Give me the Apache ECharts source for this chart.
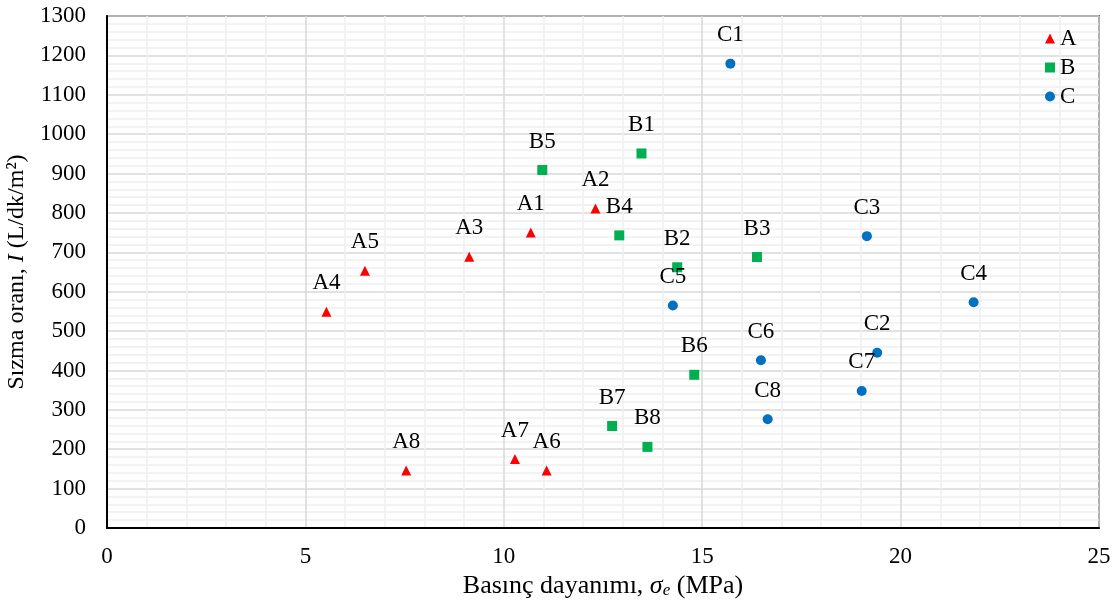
<!DOCTYPE html>
<html>
<head>
<meta charset="utf-8">
<script src="https://cdn.jsdelivr.net/npm/echarts@6/dist/echarts.min.js"></script>
<style>
  html, body { margin: 0; padding: 0; background: #fff; }
  #chart { width: 1118px; height: 601px; }
</style>
</head>
<body>
<div id="chart"></div>
<script>
// A serisi
const aNames = ['A1', 'A2', 'A3', 'A4', 'A5', 'A6', 'A7', 'A8'];
const aX = [10.68, 12.31, 9.13, 5.53, 6.50, 11.08, 10.28, 7.54];
const aY = [750, 811, 689, 549, 653, 146, 175, 146];
// B serisi
const bNames = ['B1', 'B2', 'B3', 'B4', 'B5', 'B6', 'B7', 'B8'];
const bX = [13.47, 14.37, 16.38, 12.91, 10.97, 14.80, 12.73, 13.62];
const bY = [951, 662, 688, 743, 909, 389, 259, 206];
// C serisi
const cNames = ['C1', 'C2', 'C3', 'C4', 'C5', 'C6', 'C7', 'C8'];
const cX = [15.71, 19.41, 19.15, 21.84, 14.26, 16.48, 19.02, 16.65];
const cY = [1179, 445, 741, 573, 565, 426, 348, 276];

const FONT = 'Liberation Serif';
const FS = 23;   // etiketler
const XFS = 26;  // x ekseni basligi
const YFS = 24;  // y ekseni basligi

const toData = (names, xs, ys) => names.map((n, i) => ({ name: n, value: [xs[i], ys[i]] }));

const makeSeries = (name, symbol, size, color, data) => ({
  name: name,
  type: 'scatter',
  symbol: symbol,
  symbolSize: size,
  itemStyle: { color: color, opacity: 1 },
  label: {
    show: true,
    position: 'top',
    distance: 12,
    formatter: p => p.name,
    color: '#000',
    fontFamily: FONT,
    fontSize: FS
  },
  data: data
});

const chart = echarts.init(document.getElementById('chart'));
chart.setOption({
  backgroundColor: '#fff',
  animation: false,
  grid: {
    left: 107, right: 19, top: 16, bottom: 73,
    outerBoundsMode: 'none',
    show: true, borderColor: '#000', borderWidth: 1.5
  },
  legend: {
    orient: 'vertical',
    left: 1040,
    top: 22,
    itemWidth: 10,
    itemHeight: 10,
    itemGap: 6,
    textStyle: { fontFamily: FONT, fontSize: FS, color: '#000' },
    data: ['A', 'B', 'C']
  },
  xAxis: {
    type: 'value',
    min: 0, max: 25, interval: 5,
    name: '{n|Basınç dayanımı, }{i|σ}{s|e}{n| (MPa)}',
    nameLocation: 'middle',
    nameGap: 40,
    nameTextStyle: {
      rich: {
        n: { fontFamily: FONT, fontSize: XFS, color: '#000' },
        i: { fontFamily: FONT, fontSize: XFS, fontStyle: 'italic', color: '#000' },
        s: { fontFamily: FONT, fontSize: 17, fontStyle: 'italic', color: '#000', verticalAlign: 'bottom', padding: [9, 0, 0, 0] }
      }
    },
    axisLine: { show: true, lineStyle: { color: '#000', width: 2 } },
    axisTick: { show: false },
    axisLabel: { fontFamily: FONT, fontSize: FS, color: '#000', margin: 17, formatter: v => String(v) },
    splitLine: { show: true, lineStyle: { color: '#d9d9d9', width: 1.5 } },
    minorTick: { show: false, splitNumber: 5 },
    minorSplitLine: { show: true, lineStyle: { color: '#efefef', width: 1.5 } }
  },
  yAxis: {
    type: 'value',
    min: 0, max: 1300, interval: 100,
    name: '{n|Sızma oranı, }{i|I}{n| (L/dk/m²)}',
    nameLocation: 'middle',
    nameGap: 71,
    nameRotate: 90,
    nameTextStyle: {
      rich: {
        n: { fontFamily: FONT, fontSize: YFS, color: '#000' },
        i: { fontFamily: FONT, fontSize: YFS, fontStyle: 'italic', color: '#000' }
      }
    },
    axisLine: { show: true, lineStyle: { color: '#000', width: 2 } },
    axisTick: { show: false },
    axisLabel: { fontFamily: FONT, fontSize: FS, color: '#000', margin: 21, formatter: v => String(v) },
    splitLine: { show: true, lineStyle: { color: '#d9d9d9', width: 1.5 } },
    minorTick: { show: false, splitNumber: 5 },
    minorSplitLine: { show: true, lineStyle: { color: '#efefef', width: 1.5 } }
  },
  series: [
    makeSeries('A', 'triangle', 10, '#ff0000', toData(aNames, aX, aY)),
    makeSeries('B', 'rect', 10, '#00b050', toData(bNames, bX, bY)),
    makeSeries('C', 'circle', 10, '#0070c0', toData(cNames, cX, cY))
  ]
});
</script>
</body>
</html>
